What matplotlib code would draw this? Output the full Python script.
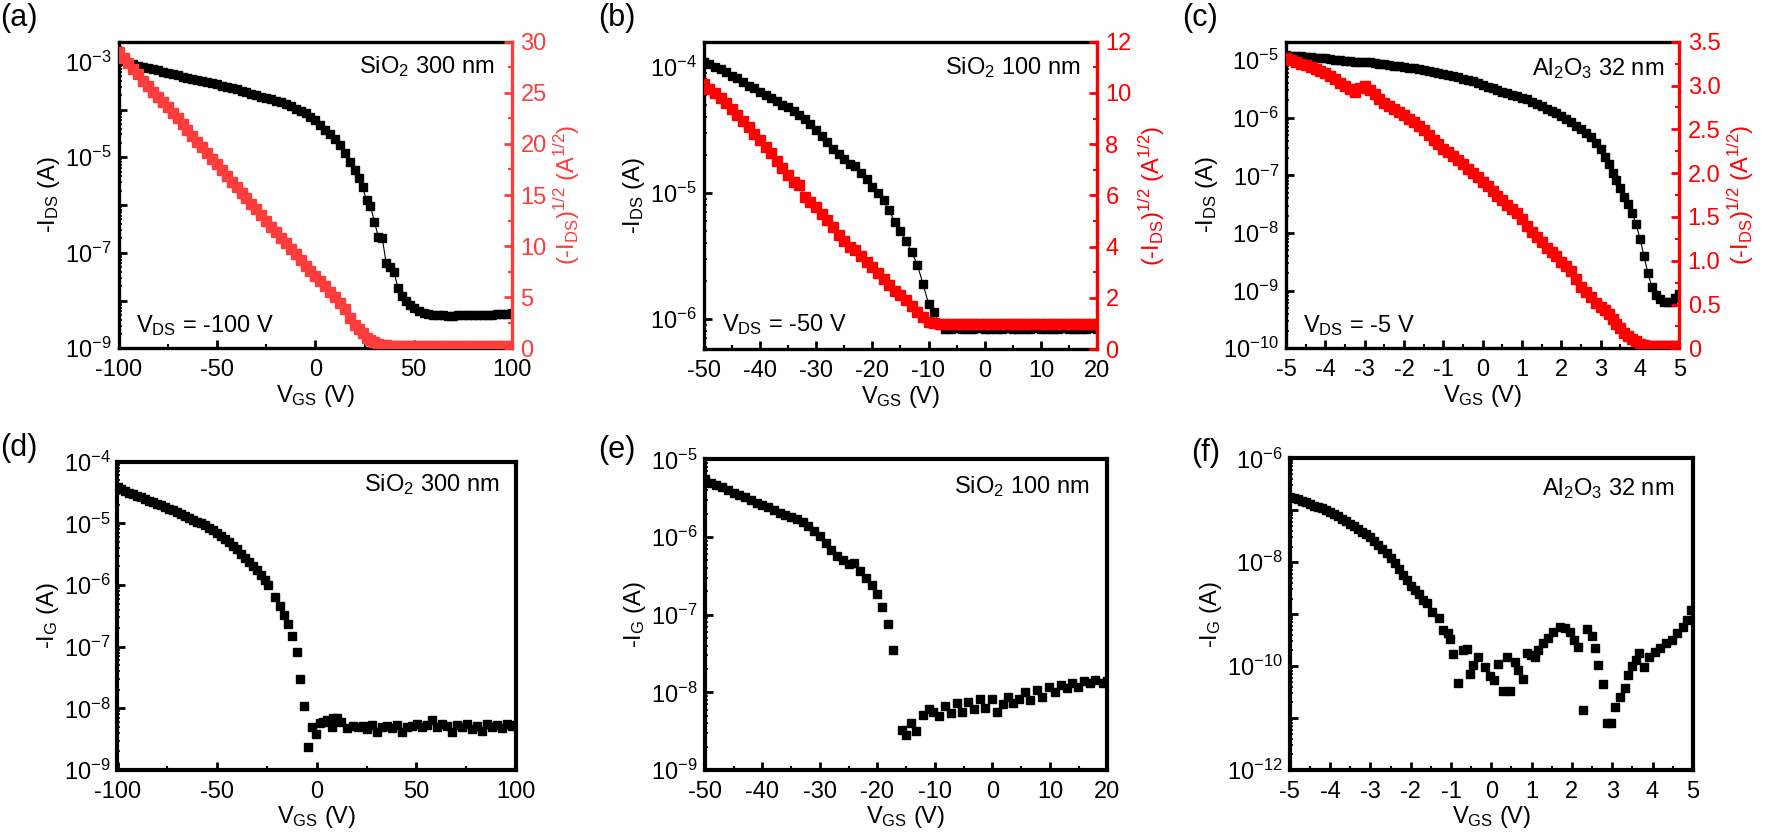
import numpy as np
import matplotlib
matplotlib.use('Agg')
import matplotlib.pyplot as plt
from matplotlib.ticker import FixedLocator, MultipleLocator, FuncFormatter, LogLocator, NullFormatter

plt.rcParams['font.family'] = 'Liberation Sans'
plt.rcParams['mathtext.fontset'] = 'custom'
plt.rcParams['mathtext.rm'] = 'Liberation Sans'
plt.rcParams['mathtext.it'] = 'Liberation Sans:italic'
plt.rcParams['axes.unicode_minus'] = False

# ---- data (log10 of current for the log panels) ----
# (a) SiO2 300 nm, VDS = -100 V
a_vgs = [-100, -97.5, -95, -92.5, -90, -87.5, -85, -82.5, -80, -77.5, -75, -72.5, -70, -67.5, -65, -62.5, -60,
         -57.5, -55, -52.5, -50, -47.5, -45, -42.5, -40, -37.5, -35, -32.5, -30, -27.5, -25, -22.5, -20, -17.5,
         -15, -12.5, -10, -7.5, -5, -2.5, 0, 2.5, 5, 7.5, 10, 12.5, 15, 17.5,
         20, 22, 24, 26, 28, 30, 32, 34, 36, 38, 40, 42, 44, 46, 48, 50,
         52.5, 55, 57.5, 60, 62.5, 65, 67.5, 70, 72.5, 75, 77.5, 80, 82.5, 85, 87.5, 90, 92.5, 95, 97.5, 100]
a_logI = [-2.95, -2.99, -3.02, -3.05, -3.08, -3.11, -3.13, -3.16, -3.18, -3.21, -3.23, -3.26, -3.28, -3.31, -3.33,
          -3.36, -3.38, -3.40, -3.42, -3.45, -3.47, -3.50, -3.52, -3.55, -3.58, -3.61, -3.64, -3.67, -3.70, -3.73,
          -3.76, -3.79, -3.82, -3.85, -3.89, -3.93, -3.98, -4.03, -4.08, -4.15, -4.23, -4.32, -4.42, -4.52, -4.62,
          -4.75, -4.91, -5.10,
          -5.27, -5.43, -5.62, -5.90, -6.02, -6.35, -6.66, -6.69, -7.22, -7.30, -7.40, -7.74, -7.90, -8.00, -8.10,
          -8.16,
          -8.22, -8.27, -8.29, -8.30, -8.31, -8.31, -8.32, -8.32, -8.31, -8.31, -8.31, -8.30, -8.30, -8.30, -8.30,
          -8.30, -8.29, -8.29, -8.28, -8.27]
a_sqrt = [29.0, 28.4, 27.9, 27.3, 26.8, 26.2, 25.7, 25.1, 24.6, 24.1, 23.6, 23.0, 22.5, 21.9, 21.4, 20.8, 20.2,
          19.7, 19.1, 18.5, 18.0, 17.4, 16.9, 16.3, 15.8, 15.2, 14.7, 14.1, 13.6, 13.0, 12.5, 11.9, 11.4, 10.8,
          10.3, 9.7, 9.2, 8.6, 8.1, 7.6, 7.1, 6.6, 6.1, 5.5, 5.0, 4.4, 3.8, 3.0,
          2.3, 1.9, 1.5, 1.05, 0.8, 0.6, 0.45, 0.35, 0.28, 0.25, 0.22, 0.2, 0.2, 0.2, 0.2, 0.2,
          0.2, 0.2, 0.2, 0.2, 0.2, 0.2, 0.2, 0.2, 0.2, 0.2, 0.2, 0.2, 0.2, 0.2, 0.2, 0.2, 0.2, 0.2, 0.2, 0.2]

# (b) SiO2 100 nm, VDS = -50 V
b_vgs = [-50, -49, -48, -47, -46, -45, -44, -43, -42, -41, -40, -39, -38, -37, -36, -35, -34, -33, -32, -31, -30,
         -29, -28, -27, -26, -25, -24, -23, -22, -21, -20, -19, -18, -17, -16, -15, -14, -13, -12, -11, -10, -9, -8,
         -7, -6, -5, -4, -3, -2, -1, 0, 1, 2, 3, 4, 5, 6, 7, 8, 9, 10, 11, 12, 13, 14, 15, 16, 17, 18, 19, 20]
b_logI = [-3.96, -3.98, -4.00, -4.02, -4.04, -4.07, -4.09, -4.12, -4.15, -4.17, -4.20, -4.22, -4.25, -4.27, -4.30,
          -4.32, -4.35, -4.38, -4.41, -4.45, -4.50, -4.55, -4.60, -4.65, -4.69, -4.73, -4.77, -4.79, -4.84, -4.89,
          -4.95, -5.00, -5.06, -5.14, -5.23, -5.30, -5.38, -5.47, -5.57, -5.72, -5.88, -5.95, -6.05,
          -6.08, -6.08, -6.07, -6.08, -6.08, -6.08, -6.07, -6.08, -6.08, -6.08, -6.08, -6.07, -6.08, -6.08, -6.08,
          -6.08, -6.07, -6.08, -6.08, -6.08, -6.08, -6.07, -6.08, -6.08, -6.08, -6.08, -6.07, -6.08]
b_sqrt = [10.33, 10.17, 10.0, 9.8, 9.6, 9.37, 9.14, 8.9, 8.65, 8.4, 8.15, 7.9, 7.65, 7.36, 7.07, 6.8, 6.52, 6.4,
          5.93, 5.73, 5.53, 5.29, 5.05, 4.76, 4.47, 4.23, 4.0, 3.85, 3.62, 3.41, 3.2, 2.97, 2.75, 2.5, 2.25, 2.1,
          1.9, 1.68, 1.45, 1.25, 1.05, 1.0, 0.98,
          0.98, 0.97, 0.98, 0.98, 0.97, 0.98, 0.99, 0.98, 0.98, 0.97, 0.98, 0.98, 0.98, 0.98, 0.99, 0.98, 0.97,
          0.98, 0.98, 0.98, 0.97, 0.98, 0.98, 0.98, 0.98, 0.97, 0.98, 0.98]

# (c) Al2O3 32 nm, VDS = -5 V
c_vgs = [-5, -4.875, -4.75, -4.625, -4.5, -4.375, -4.25, -4.125, -4, -3.875, -3.75, -3.625, -3.5, -3.375, -3.25,
         -3.125, -3, -2.875, -2.75, -2.625, -2.5, -2.375, -2.25, -2.125, -2, -1.875, -1.75, -1.625, -1.5, -1.375,
         -1.25, -1.125, -1, -0.875, -0.75, -0.625, -0.5, -0.375, -0.25, -0.125, 0, 0.125, 0.25, 0.375, 0.5, 0.625,
         0.75, 0.875, 1, 1.125, 1.25, 1.375, 1.5, 1.625, 1.75, 1.875, 2, 2.125, 2.25, 2.375, 2.5, 2.625, 2.75,
         2.875, 3,
         3.1, 3.2, 3.3, 3.4, 3.5, 3.6, 3.7, 3.8, 3.9, 4.0, 4.1, 4.2, 4.3, 4.4, 4.5, 4.6, 4.7, 4.8, 4.9, 5.0]
c_logI = [-4.91, -4.92, -4.93, -4.93, -4.94, -4.95, -4.96, -4.96, -4.97, -4.98, -4.99, -5.00, -5.01, -5.02, -5.03,
          -5.03, -5.03, -5.04, -5.05, -5.06, -5.07, -5.08, -5.10, -5.11, -5.12, -5.13, -5.14, -5.15, -5.17, -5.18,
          -5.20, -5.22, -5.24, -5.26, -5.28, -5.30, -5.32, -5.34, -5.37, -5.40, -5.43, -5.46, -5.49, -5.52, -5.55,
          -5.57, -5.60, -5.62, -5.65, -5.68, -5.72, -5.76, -5.80, -5.84, -5.88, -5.92, -5.97, -6.02, -6.08, -6.14,
          -6.20, -6.27, -6.34, -6.44, -6.55,
          -6.68, -6.80, -6.95, -7.08, -7.22, -7.37, -7.50, -7.65, -7.85, -8.10, -8.40, -8.70, -8.93, -9.08, -9.15,
          -9.19, -9.20, -9.19, -9.12, -9.05]
c_sqrt = [3.31, 3.29, 3.27, 3.25, 3.23, 3.21, 3.19, 3.17, 3.14, 3.11, 3.07, 3.03, 2.99, 2.96, 2.93, 2.97, 2.99,
          2.95, 2.90, 2.85, 2.80, 2.77, 2.73, 2.70, 2.66, 2.62, 2.58, 2.54, 2.49, 2.44, 2.38, 2.33, 2.28, 2.24,
          2.19, 2.15, 2.10, 2.05, 2.00, 1.95, 1.90, 1.85, 1.79, 1.74, 1.69, 1.64, 1.59, 1.54, 1.48, 1.40, 1.33,
          1.27, 1.21, 1.15, 1.10, 1.05, 0.99, 0.94, 0.88, 0.79, 0.70, 0.64, 0.58, 0.52, 0.47,
          0.44, 0.39, 0.34, 0.28, 0.23, 0.18, 0.14, 0.11, 0.08, 0.05, 0.04, 0.03, 0.03, 0.03, 0.03, 0.03, 0.03, 0.03,
          0.03, 0.03]

# (d) gate leakage, SiO2 300 nm
d_vgs = [-100, -98, -96, -94, -92, -90, -88, -86, -84, -82, -80, -78, -76, -74, -72, -70, -68, -66, -64, -62, -60,
         -58, -56, -54, -52, -50, -48, -46, -44, -42, -40, -38, -36, -34, -32, -30, -28, -26,
         -24.3, -21, -18.4, -16.3, -14.3, -12.2, -10, -8.5, -6.5, -4.2, -2.2, -0.5, 1.6, 3.4, 5, 7.5, 8.3, 10, 12, 15,
         18, 20.5, 23, 25.5, 28, 30.5, 33, 35.5, 38, 40.5, 43, 45.5, 48, 50.5, 53, 55.5, 58, 60.5, 63, 65.5, 68, 70.5,
         73, 75.5, 78, 80.5, 83, 85.5, 88, 90.5, 93, 95.5, 98, 100]
d_logI = [-4.41, -4.44, -4.47, -4.50, -4.53, -4.56, -4.58, -4.61, -4.63, -4.66, -4.68, -4.71, -4.73, -4.76, -4.78,
          -4.81, -4.85, -4.88, -4.91, -4.94, -4.97, -5.00, -5.03, -5.07, -5.11, -5.15, -5.20, -5.25, -5.30, -5.36,
          -5.42, -5.49, -5.56, -5.62, -5.69, -5.76, -5.84, -5.92,
          -6.00, -6.19, -6.34, -6.48, -6.64, -6.83, -7.08, -7.52, -7.97, -8.63, -8.30, -8.41, -8.24, -8.22, -8.19,
          -8.30, -8.16, -8.16, -8.22, -8.32,
          -8.28, -8.31, -8.29, -8.33, -8.27, -8.39, -8.30, -8.28, -8.32, -8.27, -8.39, -8.30, -8.29, -8.26, -8.31,
          -8.27, -8.19, -8.30, -8.25, -8.28, -8.39, -8.27, -8.31, -8.25, -8.33, -8.28, -8.36, -8.26, -8.30, -8.27,
          -8.32, -8.25, -8.28, -8.27]

# (e) gate leakage, SiO2 100 nm
e_vgs = [-50, -49, -48, -47, -46, -45, -44, -43, -42, -41, -40, -39, -38, -37, -36, -35, -34, -33, -32, -31, -30,
         -29, -28, -27, -26, -25, -24, -23, -22, -21, -20, -19.2, -18.2,
         -17.2, -15.7, -15.0, -14.2, -13.2, -12.1, -11.1, -10.3, -9.2, -8.2, -7.2, -6.2, -5.3, -4.2, -3.2, -2.1, -1.3,
         -0.1, 0.8, 1.8, 2.8, 3.6, 4.7, 5.7, 6.6, 7.7, 8.6, 9.9, 10.9, 11.9, 12.9, 13.9, 14.9, 15.9, 16.9, 17.9, 19.2,
         20]
e_logI = [-5.26, -5.30, -5.33, -5.36, -5.39, -5.43, -5.46, -5.49, -5.52, -5.56, -5.59, -5.62, -5.65, -5.69, -5.72,
          -5.74, -5.77, -5.81, -5.86, -5.92, -5.99, -6.08, -6.17, -6.24, -6.30, -6.35, -6.34, -6.44, -6.53, -6.62,
          -6.73, -6.90, -7.12, -7.46, -8.49, -8.55, -8.40, -8.50, -8.29, -8.22, -8.25, -8.31,
          -8.18, -8.27, -8.14, -8.25, -8.13, -8.22, -8.09, -8.20, -8.08, -8.25, -8.15, -8.06, -8.14, -8.09, -7.99,
          -8.10, -7.97, -8.06, -7.93, -7.99, -7.91, -7.95, -7.88, -7.93, -7.86, -7.88, -7.84, -7.88, -7.85]

# (f) gate leakage, Al2O3 32 nm
f_vgs = [-5, -4.9, -4.8, -4.7, -4.6, -4.5, -4.4, -4.3, -4.2, -4.1, -4.0, -3.9, -3.8, -3.7, -3.6, -3.5, -3.4, -3.3,
         -3.2, -3.1, -3.0, -2.9, -2.8, -2.7, -2.6, -2.5, -2.4, -2.3, -2.2, -2.1, -2.0, -1.9, -1.8, -1.7,
         -1.6, -1.48, -1.31, -1.19, -1.07, -1.02, -0.94, -0.82, -0.70, -0.61, -0.53, -0.45, -0.32, -0.16, -0.03, 0.07,
         0.17, 0.30, 0.38, 0.46, 0.59, 0.67, 0.78, 0.88, 0.98, 1.09, 1.17, 1.29, 1.41, 1.54, 1.70, 1.83, 1.95, 2.06,
         2.16, 2.27, 2.37, 2.49, 2.57, 2.66, 2.76, 2.86, 2.96, 3.07, 3.19, 3.32, 3.40, 3.48, 3.58, 3.67, 3.78, 3.91,
         4.05, 4.19, 4.34, 4.48, 4.62, 4.76, 4.86, 4.95]
f_logI = [-6.74, -6.76, -6.79, -6.82, -6.85, -6.88, -6.91, -6.93, -6.96, -7.00, -7.03, -7.07, -7.11, -7.16, -7.21,
          -7.26, -7.31, -7.36, -7.41, -7.46, -7.52, -7.59, -7.66, -7.74, -7.83, -7.92, -8.02, -8.13, -8.24, -8.35,
          -8.45, -8.54, -8.62, -8.72,
          -8.79, -8.95, -9.08, -9.30, -9.37, -9.48, -9.77, -10.33, -9.69, -9.68, -10.15, -9.98,
          -9.83, -10.01, -10.20, -10.27, -9.95, -10.48, -9.82, -10.48, -9.93, -10.08, -10.25, -9.74, -9.78, -9.82,
          -9.69, -9.56, -9.46, -9.34, -9.25, -9.27, -9.34, -9.50, -9.63, -10.85, -9.29, -9.43, -9.66, -9.98, -10.34,
          -11.09, -11.10, -10.79, -10.59, -10.43, -10.17, -10.00, -9.88, -9.75, -10.02, -9.82, -9.72, -9.66, -9.56,
          -9.50, -9.37, -9.24, -9.11, -8.92]

FS = 17
RED_A = '#ff3c3c'
RED = '#ff0000'


def dec_formatter(labelled):
    def f(v, pos):
        e = int(round(np.log10(v)))
        if e in labelled:
            return r'$\mathregular{10^{%d}}$' % e
        return ''
    return FuncFormatter(f)


def style_axes(ax, xlim, xmaj, xmin, ylim_exp, labelled, spine_lw, right_free=False):
    ax.set_xlim(*xlim)
    ax.set_yscale('log')
    ax.set_ylim(10.0 ** ylim_exp[0], 10.0 ** ylim_exp[1])
    ax.xaxis.set_major_locator(MultipleLocator(xmaj))
    ax.xaxis.set_minor_locator(MultipleLocator(xmin))
    lo = int(np.ceil(ylim_exp[0] - 1e-6))
    hi = int(np.floor(ylim_exp[1] + 1e-6))
    ax.yaxis.set_major_locator(FixedLocator([10.0 ** e for e in range(lo, hi + 1)]))
    ax.yaxis.set_major_formatter(dec_formatter(labelled))
    ax.yaxis.set_minor_locator(LogLocator(base=10, subs=np.arange(2, 10), numticks=30))
    ax.yaxis.set_minor_formatter(NullFormatter())
    ax.tick_params(which='major', direction='in', length=6, width=2, labelsize=FS,
                   top=False, right=False)
    ax.tick_params(axis='x', which='major', pad=8)
    ax.tick_params(axis='y', which='major', pad=5)
    ax.tick_params(which='minor', direction='in', length=3, width=1.5, top=False, right=False)
    ax.tick_params(axis='y', which='minor', length=2, width=1.2)
    for s in ax.spines.values():
        s.set_linewidth(spine_lw)
    if right_free:
        ax.spines['right'].set_visible(False)
    ax.set_xlabel(r'V$_{\mathregular{GS}}$ (V)', fontsize=FS, labelpad=1)


fig = plt.figure(figsize=(17.8, 8.36), dpi=100)

W, H = 1780.0, 836.0


def box(x0, x1, y0, y1):
    return [x0 / W, 1 - y1 / H, (x1 - x0) / W, (y1 - y0) / H]


sqrt_label = r'(-I$_{\mathregular{DS}}$)$^{\mathregular{1/2}}$ (A$^{\mathregular{1/2}}$)'

# ---- top row: transfer curves ----
top_specs = [
    dict(pos=box(118.6, 512.1, 41.7, 348.3), x=a_vgs, logI=a_logI, sq=a_sqrt, xlim=(-100, 100), xmaj=50, xmin=25,
         ylim=(-9, -2.58), lab=[-3, -5, -7, -9], rlim=(0, 30), rmaj=5, rmin=2.5, red=RED_A,
         name=r'SiO$_{\mathregular{2}}$ 300 nm', vds=r'V$_{\mathregular{DS}}$ = -100 V', ms=6, rms=6.5,
         nxy=(0.954, 0.918), vxy=(0.045, 0.075), rfmt='%d'),
    dict(pos=box(703.7, 1097.1, 41.7, 349.0), x=b_vgs, logI=b_logI, sq=b_sqrt, xlim=(-50, 20), xmaj=10, xmin=5,
         ylim=(-6.24, -3.80), lab=[-4, -5, -6], rlim=(0, 12), rmaj=2, rmin=1, red=RED,
         name=r'SiO$_{\mathregular{2}}$ 100 nm', vds=r'V$_{\mathregular{DS}}$ = -50 V', ms=6, rms=6.5,
         nxy=(0.957, 0.917), vxy=(0.047, 0.078), rfmt='%d'),
    dict(pos=box(1286.0, 1679.4, 41.7, 348.3), x=c_vgs, logI=c_logI, sq=c_sqrt, xlim=(-5, 5), xmaj=1, xmin=0.5,
         ylim=(-10, -4.68), lab=[-5, -6, -7, -8, -9, -10], rlim=(0, 3.5), rmaj=0.5, rmin=0.25, red=RED,
         name=r'Al$_{\mathregular{2}}$O$_{\mathregular{3}}$ 32 nm', vds=r'V$_{\mathregular{DS}}$ = -5 V', ms=6,
         rms=6.5, nxy=(0.961, 0.914), vxy=(0.043, 0.075), rfmt='%.1f'),
]

for sp in top_specs:
    ax = fig.add_axes(sp['pos'])
    ax.plot(sp['x'], 10.0 ** np.array(sp['logI']), color='black', lw=0.8, marker='s', ms=sp['ms'],
            mec='black', mfc='black')
    style_axes(ax, sp['xlim'], sp['xmaj'], sp['xmin'], sp['ylim'], sp['lab'], 2.4, right_free=True)
    ax.set_ylabel(r'-I$_{\mathregular{DS}}$ (A)', fontsize=FS, labelpad=2)
    ax.text(sp['nxy'][0], sp['nxy'][1], sp['name'], transform=ax.transAxes, ha='right', va='center', fontsize=FS)
    ax.text(sp['vxy'][0], sp['vxy'][1], sp['vds'], transform=ax.transAxes, ha='left', va='center', fontsize=FS)

    rx = ax.twinx()
    rx.plot(sp['x'], sp['sq'], color=sp['red'], lw=0.8, marker='s', ms=sp['rms'], mec=sp['red'], mfc=sp['red'])
    rx.set_ylim(*sp['rlim'])
    rx.yaxis.set_major_locator(MultipleLocator(sp['rmaj']))
    rx.yaxis.set_minor_locator(MultipleLocator(sp['rmin']))
    fmt = sp['rfmt']
    rx.yaxis.set_major_formatter(FuncFormatter(lambda v, p, fmt=fmt: '0' if abs(v) < 1e-9 else fmt % v))
    rx.tick_params(which='major', direction='in', length=6, width=2, labelsize=FS, colors=sp['red'], pad=6)
    rx.tick_params(which='minor', direction='in', length=3, width=1.5, colors=sp['red'])
    for k in ['top', 'left', 'bottom']:
        rx.spines[k].set_visible(False)
    rx.spines['right'].set_linewidth(2.4)
    rx.spines['right'].set_color(sp['red'])
    rx.set_ylabel(sqrt_label, fontsize=FS, color=sp['red'], labelpad=4)

# ---- bottom row: gate leakage ----
bot_specs = [
    dict(pos=box(117.5, 515.9, 461.7, 770.0), x=d_vgs, logI=d_logI, xlim=(-100, 100), xmaj=50, xmin=25,
         ylim=(-9, -4), lab=[-4, -5, -6, -7, -8, -9], name=r'SiO$_{\mathregular{2}}$ 300 nm', ms=5.5,
         nxy=(0.957, 0.925)),
    dict(pos=box(704.8, 1107.4, 459.3, 770.0), x=e_vgs, logI=e_logI, xlim=(-50, 20), xmaj=10, xmin=5,
         ylim=(-9, -5), lab=[-5, -6, -7, -8, -9], name=r'SiO$_{\mathregular{2}}$ 100 nm', ms=6,
         nxy=(0.955, 0.911)),
    dict(pos=box(1289.8, 1692.8, 458.3, 770.0), x=f_vgs, logI=f_logI, xlim=(-5, 5), xmaj=1, xmin=0.5,
         ylim=(-12, -6), lab=[-6, -8, -10, -12], name=r'Al$_{\mathregular{2}}$O$_{\mathregular{3}}$ 32 nm', ms=5.5,
         nxy=(0.953, 0.904)),
]

for sp in bot_specs:
    ax = fig.add_axes(sp['pos'])
    ax.plot(sp['x'], 10.0 ** np.array(sp['logI']), ls='none', marker='s', ms=sp['ms'], mec='black', mfc='black')
    style_axes(ax, sp['xlim'], sp['xmaj'], sp['xmin'], sp['ylim'], sp['lab'], 3.0)
    ax.set_ylabel(r'-I$_{\mathregular{G}}$ (A)', fontsize=FS, labelpad=2)
    ax.text(sp['nxy'][0], sp['nxy'][1], sp['name'], transform=ax.transAxes, ha='right', va='center', fontsize=FS)

# panel letters
for lbl, px, py in [('(a)', 0, 3), ('(b)', 598, 3), ('(c)', 1182, 3),
                    ('(d)', 0, 433), ('(e)', 598, 435), ('(f)', 1191, 438)]:
    fig.text(px / W, 1 - py / H, lbl, fontsize=22, ha='left', va='top')

fig.savefig('out.png', dpi=100)
